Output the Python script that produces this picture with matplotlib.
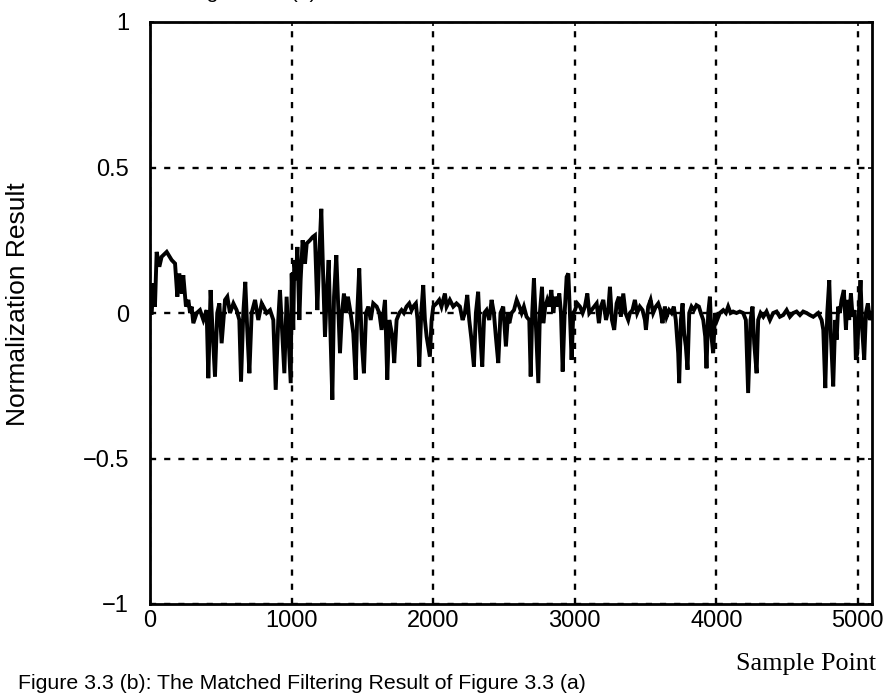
import matplotlib
matplotlib.use("Agg")
import matplotlib.pyplot as plt

# matched filtering output (peaks / troughs)
sample_x = [
    0, 12, 24, 35, 47, 66, 82, 118, 153, 177, 193, 207, 224, 235, 254, 271, 283, 294, 306, 330,
    353, 377, 400, 412, 428, 443, 459, 475, 490, 506, 530, 546, 565, 589, 612, 631, 643, 659, 673, 687,
    702, 718, 742, 765, 789, 801, 824, 848, 871, 888, 906, 918, 937, 949, 965, 977, 994, 1001, 1012, 1019,
    1031, 1041, 1055, 1064, 1078, 1095, 1107, 1130, 1149, 1165, 1182, 1196, 1210, 1224, 1236, 1248, 1262, 1276, 1288, 1300,
    1316, 1330, 1342, 1356, 1370, 1384, 1398, 1417, 1436, 1453, 1464, 1478, 1495, 1511, 1526, 1542, 1559, 1577, 1601, 1620,
    1636, 1660, 1676, 1690, 1713, 1725, 1742, 1761, 1777, 1793, 1812, 1831, 1848, 1859, 1878, 1890, 1902, 1916, 1930, 1942,
    1954, 1965, 1977, 1989, 2001, 2024, 2043, 2059, 2083, 2095, 2118, 2142, 2165, 2189, 2208, 2224, 2241, 2255, 2271, 2288,
    2302, 2318, 2330, 2347, 2361, 2377, 2396, 2413, 2429, 2443, 2460, 2476, 2495, 2514, 2530, 2538, 2554, 2571, 2590, 2609,
    2625, 2641, 2660, 2679, 2689, 2700, 2712, 2726, 2743, 2754, 2769, 2778, 2792, 2806, 2820, 2835, 2849, 2863, 2877, 2891,
    2903, 2915, 2929, 2943, 2955, 2966, 2978, 2990, 3002, 3018, 3037, 3056, 3072, 3089, 3103, 3119, 3138, 3155, 3171, 3185,
    3202, 3221, 3237, 3249, 3263, 3279, 3296, 3312, 3326, 3343, 3359, 3378, 3390, 3408, 3425, 3441, 3460, 3479, 3496, 3503,
    3519, 3536, 3554, 3573, 3590, 3606, 3620, 3637, 3649, 3667, 3684, 3700, 3714, 3731, 3738, 3750, 3762, 3773, 3785, 3797,
    3809, 3825, 3842, 3860, 3877, 3891, 3908, 3922, 3931, 3943, 3955, 3966, 3978, 3992, 4006, 4025, 4049, 4068, 4084, 4101,
    4119, 4143, 4166, 4190, 4209, 4225, 4242, 4256, 4268, 4285, 4296, 4313, 4332, 4355, 4379, 4402, 4426, 4449, 4473, 4497,
    4520, 4544, 4567, 4591, 4614, 4638, 4661, 4685, 4720, 4744, 4756, 4770, 4784, 4798, 4810, 4826, 4840, 4850, 4861, 4873,
    4885, 4901, 4916, 4925, 4939, 4951, 4963, 4977, 4986, 4996, 5007, 5019, 5031, 5045, 5057, 5071, 5085, 5100,
]
result = [
    0.0, 0.0, 0.102, 0.022, 0.210, 0.159, 0.193, 0.210, 0.182, 0.170, 0.056, 0.136, 0.067, 0.130, 0.022, 0.045, 0.0, 0.022, -0.035, 0.0,
    0.010, -0.024, 0.010, -0.224, 0.079, -0.070, -0.218, 0.0, 0.033, -0.104, 0.045, 0.056, 0.0, 0.033, 0.010, -0.024, -0.235, 0.0, 0.107, -0.058,
    -0.207, 0.0, 0.045, -0.024, 0.033, 0.022, 0.0, 0.010, -0.024, -0.264, -0.024, 0.079, -0.092, -0.207, 0.056, -0.070, -0.241, 0.136, -0.058, 0.182,
    0.113, 0.227, -0.024, 0.113, 0.250, 0.170, 0.239, 0.250, 0.261, 0.267, 0.010, 0.204, 0.358, 0.113, -0.081, 0.056, 0.182, -0.092, -0.298, 0.056,
    0.199, 0.022, -0.138, 0.0, 0.067, 0.0, 0.056, 0.0, -0.070, -0.229, 0.0, 0.153, -0.092, -0.207, 0.0, 0.022, -0.024, 0.033, 0.022, 0.0,
    -0.058, 0.045, -0.229, -0.024, -0.081, -0.172, -0.024, 0.0, 0.010, 0.0, 0.022, 0.033, 0.010, 0.022, 0.033, -0.024, -0.184, 0.0, 0.096, -0.024,
    -0.081, -0.115, -0.150, -0.024, 0.022, 0.033, 0.045, 0.022, 0.067, 0.022, 0.045, 0.022, 0.033, 0.022, -0.024, 0.0, 0.062, -0.024, -0.092, -0.184,
    0.0, 0.073, -0.058, -0.184, 0.0, 0.010, -0.024, 0.045, 0.0, -0.081, -0.172, 0.0, 0.022, -0.115, 0.0, -0.035, 0.0, 0.010, 0.045, 0.022,
    0.0, 0.022, -0.013, -0.024, -0.218, 0.0, 0.119, -0.047, -0.241, 0.0, 0.090, -0.035, 0.022, 0.045, 0.022, 0.079, 0.0, 0.056, 0.022, 0.067,
    0.0, -0.201, 0.0, 0.124, 0.136, 0.0, -0.161, 0.0, 0.010, 0.033, 0.022, 0.0, 0.022, 0.067, 0.0, 0.010, 0.022, 0.033, -0.035, 0.022,
    0.045, -0.024, 0.010, 0.090, -0.024, -0.058, 0.033, 0.056, -0.013, 0.067, 0.0, -0.024, 0.0, 0.010, 0.045, 0.0, 0.022, 0.010, -0.024, -0.058,
    0.022, 0.045, 0.0, 0.022, 0.033, 0.010, -0.035, 0.022, -0.013, 0.010, 0.0, 0.022, -0.024, -0.138, -0.241, -0.024, 0.033, -0.070, -0.115, -0.195,
    0.0, 0.022, 0.010, 0.027, 0.022, 0.0, -0.024, -0.081, -0.190, 0.0, 0.056, -0.081, -0.138, 0.0, -0.024, 0.0, 0.010, 0.0, 0.022, 0.0,
    0.005, 0.0, 0.005, 0.0, -0.024, -0.275, -0.024, 0.022, -0.104, -0.207, -0.024, 0.0, -0.013, 0.005, -0.024, 0.0, 0.005, -0.013, -0.007, 0.010,
    -0.013, 0.0, 0.005, -0.007, 0.005, 0.0, -0.007, -0.013, 0.0, -0.024, -0.058, -0.258, 0.0, 0.113, -0.081, -0.252, -0.024, -0.092, 0.022, 0.0,
    0.045, 0.079, -0.058, 0.045, -0.024, 0.067, -0.013, 0.010, -0.161, -0.138, 0.0, 0.113, -0.058, -0.161, 0.0, 0.033, -0.024, 0.0,
]

x_ticks = [0, 1000, 2000, 3000, 4000, 5000]
y_ticks = [-1, -0.5, 0, 0.5, 1]
y_tick_labels = ["\u22121", "\u22120.5", "0", "0.5", "1"]

W, H = 895, 697
fig = plt.figure(figsize=(W / 100, H / 100), dpi=100)
ax = fig.add_axes([150 / W, 1 - 604 / H, (872 - 150) / W, (604 - 22) / H])

ax.plot(sample_x, result, color="black", lw=2.8, solid_joinstyle="miter")

ax.set_xlim(0, 5100)
ax.set_ylim(-1, 1)
ax.set_xticks(x_ticks)
ax.set_yticks(y_ticks)
ax.set_yticklabels(y_tick_labels)
ax.grid(True, color="black", lw=1.7, linestyle=(0, (2.6, 3.4)))
ax.set_axisbelow(True)
ax.tick_params(direction="in", length=3, width=1.2, top=True, right=True,
               labelsize=17)
ax.tick_params(axis="x", pad=4)
ax.tick_params(axis="y", pad=15)
for lab in ax.get_xticklabels() + ax.get_yticklabels():
    lab.set_family("Liberation Sans")
for sp in ax.spines.values():
    sp.set_linewidth(2.0)

fig.text(18 / W, 1 - 304 / H, "Normalization Result", rotation=90,
         ha="center", va="center", family="Liberation Sans", fontsize=19)
fig.text(876 / W, 1 - 670 / H, "Sample Point", ha="right", va="baseline",
         family="Liberation Serif", fontsize=18.8)
fig.text(18 / W, 1 - 689 / H,
         "Figure 3.3 (b): The Matched Filtering Result of Figure 3.3 (a)",
         ha="left", va="baseline", family="Liberation Sans", fontsize=15.3)
# caption of the panel above, cut off by the scan
fig.text(189 / W, 1 + 1.5 / H, "Figure 3.3 (a)", ha="left", va="baseline",
         family="Liberation Sans", fontsize=15.3)

fig.savefig("out.png", dpi=100)
